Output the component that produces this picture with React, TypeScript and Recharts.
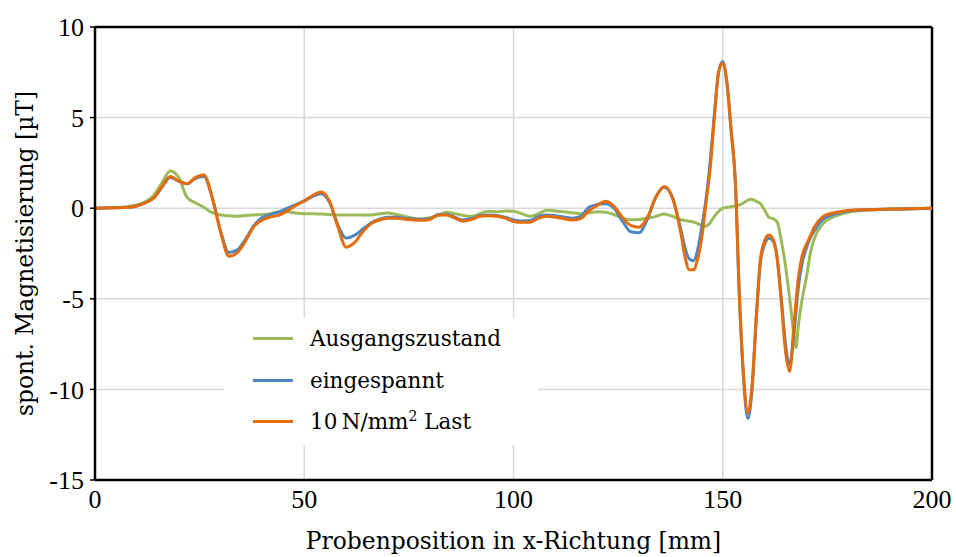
import React from "react";
import { CartesianGrid, Legend, Line, LineChart, ReferenceLine, XAxis, YAxis } from "recharts";

// Probenposition in mm
const positions = [
  0, 4, 8, 12, 14, 16, 18, 20, 22, 24, 26, 28, 30, 32, 34, 36, 38, 40, 42, 44, 46, 48, 50, 52, 54, 56, 58,
  60, 62, 64, 66, 68, 70, 72, 74, 76, 78, 80, 82, 84, 86, 88, 90, 92, 94, 96, 98, 100, 102, 104, 106, 108,
  110, 112, 114, 116, 118, 120, 122, 124, 126, 128, 130, 132, 134, 136, 138, 140, 141, 142, 143, 144, 145,
  146, 147, 148, 149, 150, 151, 152, 153, 154, 155, 156, 157, 158, 159, 160, 161, 162, 163, 164, 165, 166,
  167, 167.5, 168, 169, 170, 171, 172, 174, 176, 178, 180, 185, 190, 195, 200,
];

const ausgangszustand = [
  0, 0.02, 0.1, 0.35, 0.7, 1.4, 2.05, 1.7, 0.6, 0.3, 0.05, -0.25, -0.38, -0.42, -0.45, -0.4, -0.37, -0.35, -0.3,
  -0.2, -0.2, -0.27, -0.3, -0.3, -0.32, -0.35, -0.37, -0.37, -0.37, -0.37, -0.37, -0.3, -0.27, -0.35, -0.45,
  -0.55, -0.58, -0.52, -0.4, -0.23, -0.3, -0.4, -0.45, -0.3, -0.17, -0.2, -0.15, -0.17, -0.3, -0.45, -0.3,
  -0.12, -0.15, -0.2, -0.25, -0.3, -0.25, -0.2, -0.22, -0.35, -0.55, -0.64, -0.62, -0.56, -0.45, -0.32, -0.45,
  -0.64, -0.68, -0.72, -0.76, -0.85, -0.95, -1.0, -0.8, -0.45, -0.18, 0.0, 0.05, 0.08, 0.13, 0.18, 0.3, 0.45,
  0.5, 0.38, 0.25, -0.1, -0.5, -0.58, -0.75, -1.8, -3.2, -5.0, -7.0, -7.7, -6.6, -5.0, -3.8, -2.4, -1.6, -0.85,
  -0.52, -0.35, -0.22, -0.1, -0.06, -0.03, 0,
];

const eingespannt = [
  0, 0.02, 0.05, 0.3, 0.55, 1.15, 1.7, 1.5, 1.35, 1.65, 1.75, 0.6, -1.25, -2.45, -2.3, -1.7, -0.95, -0.5,
  -0.35, -0.2, 0.0, 0.2, 0.4, 0.65, 0.8, 0.35, -0.9, -1.65, -1.5, -1.15, -0.8, -0.6, -0.5, -0.5, -0.55, -0.6,
  -0.62, -0.58, -0.35, -0.33, -0.5, -0.65, -0.57, -0.4, -0.37, -0.4, -0.5, -0.65, -0.7, -0.68, -0.45, -0.38,
  -0.42, -0.48, -0.55, -0.45, 0.05, 0.2, 0.25, 0.0, -0.7, -1.3, -1.35, -0.6, 0.6, 1.15, 0.6, -1.2, -2.2, -2.8,
  -2.9, -2.3, -1.0, 0.5, 2.6, 5.2, 7.5, 8.1, 6.9, 4.3, 1.5, -5.0, -9.5, -11.6, -10.0, -6.2, -3.0, -2.0, -1.66,
  -1.8, -2.7, -5.0, -7.5, -8.6, -7.0, null, -4.5, -3.0, -2.2, -1.6, -1.2, -0.6, -0.38, -0.25, -0.15, -0.08,
  -0.05, -0.03, 0,
];

const last10 = [
  0, 0.02, 0.05, 0.3, 0.55, 1.2, 1.75, 1.5, 1.35, 1.7, 1.85, 0.6, -1.3, -2.65, -2.45, -1.8, -1.0, -0.65, -0.48,
  -0.38, -0.15, 0.15, 0.4, 0.7, 0.9, 0.4, -1.0, -2.15, -1.9, -1.3, -0.85, -0.65, -0.55, -0.55, -0.6, -0.65,
  -0.67, -0.62, -0.38, -0.38, -0.55, -0.72, -0.62, -0.45, -0.42, -0.45, -0.55, -0.73, -0.78, -0.78, -0.55,
  -0.45, -0.5, -0.58, -0.65, -0.58, -0.15, 0.15, 0.38, 0.1, -0.5, -0.95, -1.05, -0.5, 0.6, 1.2, 0.55, -1.4,
  -2.7, -3.4, -3.4, -2.8, -1.6, 0.3, 2.2, 5.0, 7.5, 8.0, 6.9, 4.3, 1.5, -5.0, -9.3, -11.3, -9.8, -6.0, -2.8,
  -1.8, -1.48, -1.7, -2.8, -5.2, -7.9, -9.0, -6.5, null, -4.0, -2.6, -2.0, -1.5, -1.0, -0.45, -0.28, -0.2,
  -0.12, -0.08, -0.05, -0.03, 0,
];

const xTicks = [0, 50, 100, 150, 200];
const yTicks = [-15, -10, -5, 0, 5, 10];

const seriesNames = ["Ausgangszustand", "eingespannt", "10 N/mm² Last"];
const seriesColors = ["#9BBB59", "#4F86C6", "#E46C0A"];

const data = positions.map((x, i) => ({
  x,
  a: ausgangszustand[i],
  e: eingespannt[i],
  l: last10[i],
}));

const font = "'DejaVu Serif', serif";
const tickFont = "'Liberation Serif', serif";

function LegendBox() {
  return (
    <div style={{ background: "#fff", width: 314, height: 127, fontFamily: font, fontSize: 21.5, color: "#000" }}>
      {seriesNames.map((name, i) => (
        <div key={name} style={{ display: "flex", alignItems: "center", height: 41.5 }}>
          <div style={{ marginLeft: 29, width: 40, height: 3, background: seriesColors[i] }} />
          <span style={{ marginLeft: 17, whiteSpace: "nowrap" }}>
            {i === 2 ? (
              <>
                10{"\u2009"}N/mm<sup style={{ fontSize: 14, lineHeight: 0 }}>2</sup> Last
              </>
            ) : (
              name
            )}
          </span>
        </div>
      ))}
    </div>
  );
}

export default function App() {
  const tickStyle = { fill: "#000", fontSize: 26, fontFamily: tickFont };
  const titleStyle = { fill: "#000", fontSize: 23.4, fontFamily: font };
  return (
    <div style={{ width: 956, height: 557, background: "#fff" }}>
      <style>{"body{margin:0}"}</style>
      <LineChart width={956} height={557} data={data} margin={{ top: 27, right: 24, bottom: 0, left: 0 }}>
        <CartesianGrid stroke="#d9d9d9" strokeWidth={1.5} />
        <XAxis
          dataKey="x"
          type="number"
          domain={[0, 200]}
          ticks={xTicks}
          height={77}
          tickLine={false}
          tickSize={0}
          tickMargin={10}
          axisLine={{ stroke: "#000", strokeWidth: 2.5 }}
          tick={tickStyle}
          label={{
            value: "Probenposition in x-Richtung [mm]",
            position: "insideBottom",
            offset: 8,
            style: titleStyle,
          }}
        />
        <YAxis
          type="number"
          domain={[-15, 10]}
          ticks={yTicks}
          width={95}
          tickSize={5}
          tickMargin={6}
          tickLine={{ stroke: "#000", strokeWidth: 1.5 }}
          axisLine={{ stroke: "#000", strokeWidth: 2.5 }}
          tick={tickStyle}
          label={{
            value: "spont. Magnetisierung [µT]",
            angle: -90,
            position: "insideLeft",
            offset: 25,
            style: { ...titleStyle, textAnchor: "middle" },
          }}
        />
        <ReferenceLine y={10} stroke="#000" strokeWidth={2.5} />
        <ReferenceLine x={200} stroke="#000" strokeWidth={2.5} />
        <Line dataKey="a" type="monotone" stroke={seriesColors[0]} strokeWidth={3} dot={false} connectNulls isAnimationActive={false} />
        <Line dataKey="e" type="monotone" stroke={seriesColors[1]} strokeWidth={3} dot={false} connectNulls isAnimationActive={false} />
        <Line dataKey="l" type="monotone" stroke={seriesColors[2]} strokeWidth={3} dot={false} connectNulls isAnimationActive={false} />
        <Legend
          layout="vertical"
          align="center"
          verticalAlign="middle"
          wrapperStyle={{ left: 224, top: 318, width: 314, height: 127 }}
          content={() => <LegendBox />}
        />
      </LineChart>
    </div>
  );
}
